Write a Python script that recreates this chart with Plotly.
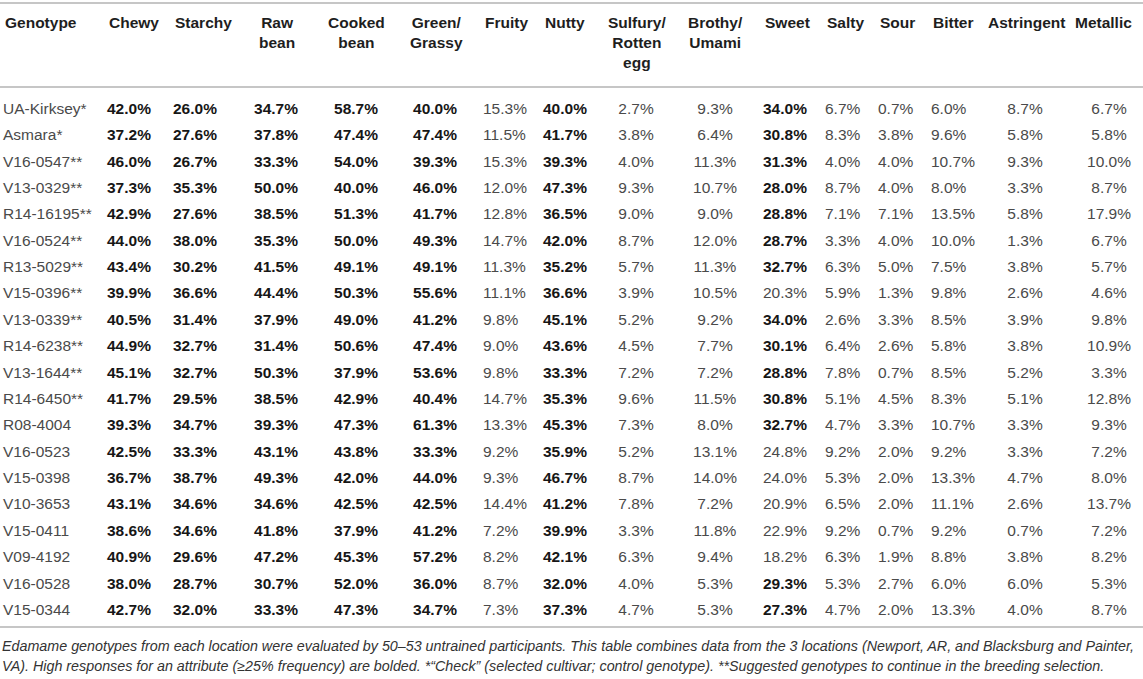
import plotly.graph_objects as go

# attributes (column headers) and genotypes (rows)
headers = ["Genotype", "Chewy", "Starchy", "Raw<br>bean", "Cooked<br>bean", "Green/<br>Grassy",
           "Fruity", "Nutty", "Sulfury/<br>Rotten<br>egg", "Brothy/<br>Umami", "Sweet", "Salty",
           "Sour", "Bitter", "Astringent", "Metallic"]

genotypes = ["UA-Kirksey*", "Asmara*", "V16-0547**", "V13-0329**", "R14-16195**", "V16-0524**",
             "R13-5029**", "V15-0396**", "V13-0339**", "R14-6238**", "V13-1644**", "R14-6450**",
             "R08-4004", "V16-0523", "V15-0398", "V10-3653", "V15-0411", "V09-4192", "V16-0528",
             "V15-0344"]

chewy = [42.0, 37.2, 46.0, 37.3, 42.9, 44.0, 43.4, 39.9, 40.5, 44.9, 45.1, 41.7, 39.3, 42.5, 36.7, 43.1, 38.6, 40.9, 38.0, 42.7]
starchy = [26.0, 27.6, 26.7, 35.3, 27.6, 38.0, 30.2, 36.6, 31.4, 32.7, 32.7, 29.5, 34.7, 33.3, 38.7, 34.6, 34.6, 29.6, 28.7, 32.0]
raw_bean = [34.7, 37.8, 33.3, 50.0, 38.5, 35.3, 41.5, 44.4, 37.9, 31.4, 50.3, 38.5, 39.3, 43.1, 49.3, 34.6, 41.8, 47.2, 30.7, 33.3]
cooked_bean = [58.7, 47.4, 54.0, 40.0, 51.3, 50.0, 49.1, 50.3, 49.0, 50.6, 37.9, 42.9, 47.3, 43.8, 42.0, 42.5, 37.9, 45.3, 52.0, 47.3]
green_grassy = [40.0, 47.4, 39.3, 46.0, 41.7, 49.3, 49.1, 55.6, 41.2, 47.4, 53.6, 40.4, 61.3, 33.3, 44.0, 42.5, 41.2, 57.2, 36.0, 34.7]
fruity = [15.3, 11.5, 15.3, 12.0, 12.8, 14.7, 11.3, 11.1, 9.8, 9.0, 9.8, 14.7, 13.3, 9.2, 9.3, 14.4, 7.2, 8.2, 8.7, 7.3]
nutty = [40.0, 41.7, 39.3, 47.3, 36.5, 42.0, 35.2, 36.6, 45.1, 43.6, 33.3, 35.3, 45.3, 35.9, 46.7, 41.2, 39.9, 42.1, 32.0, 37.3]
sulfury = [2.7, 3.8, 4.0, 9.3, 9.0, 8.7, 5.7, 3.9, 5.2, 4.5, 7.2, 9.6, 7.3, 5.2, 8.7, 7.8, 3.3, 6.3, 4.0, 4.7]
brothy = [9.3, 6.4, 11.3, 10.7, 9.0, 12.0, 11.3, 10.5, 9.2, 7.7, 7.2, 11.5, 8.0, 13.1, 14.0, 7.2, 11.8, 9.4, 5.3, 5.3]
sweet = [34.0, 30.8, 31.3, 28.0, 28.8, 28.7, 32.7, 20.3, 34.0, 30.1, 28.8, 30.8, 32.7, 24.8, 24.0, 20.9, 22.9, 18.2, 29.3, 27.3]
salty = [6.7, 8.3, 4.0, 8.7, 7.1, 3.3, 6.3, 5.9, 2.6, 6.4, 7.8, 5.1, 4.7, 9.2, 5.3, 6.5, 9.2, 6.3, 5.3, 4.7]
sour = [0.7, 3.8, 4.0, 4.0, 7.1, 4.0, 5.0, 1.3, 3.3, 2.6, 0.7, 4.5, 3.3, 2.0, 2.0, 2.0, 0.7, 1.9, 2.7, 2.0]
bitter = [6.0, 9.6, 10.7, 8.0, 13.5, 10.0, 7.5, 9.8, 8.5, 5.8, 8.5, 8.3, 10.7, 9.2, 13.3, 11.1, 9.2, 8.8, 6.0, 13.3]
astringent = [8.7, 5.8, 9.3, 3.3, 5.8, 1.3, 3.8, 2.6, 3.9, 3.8, 5.2, 5.1, 3.3, 3.3, 4.7, 2.6, 0.7, 3.8, 6.0, 4.0]
metallic = [6.7, 5.8, 10.0, 8.7, 17.9, 6.7, 5.7, 4.6, 9.8, 10.9, 3.3, 12.8, 9.3, 7.2, 8.0, 13.7, 7.2, 8.2, 5.3, 8.7]

footnote_1 = ("Edamame genotypes from each location were evaluated by 50–53 untrained participants. "
              "This table combines data from the 3 locations (Newport, AR, and Blacksburg and Painter,")
footnote_2 = ("VA). High responses for an attribute (≥25% frequency) are bolded. *“Check” (selected cultivar; "
              "control genotype). **Suggested genotypes to continue in the breeding selection.")

attrs = [chewy, starchy, raw_bean, cooked_bean, green_grassy, fruity, nutty, sulfury, brothy,
         sweet, salty, sour, bitter, astringent, metallic]

# page geometry (pixels)
W, H = 1143, 679
FONT = "Liberation Sans, Arial, sans-serif"
first_row_px, row_pitch = 110, 26.37
# column anchors: (header x, header anchor, value x, value anchor)
col_layout = [
    (3, "left", 3, "left"), (107, "left", 107, "left"), (173, "left", 173, "left"),
    (277, "center", 276, "center"), (356, "center", 356, "center"), (436, "center", 435, "center"),
    (483, "left", 483, "left"), (543, "left", 543, "left"), (637, "center", 636, "center"),
    (715, "center", 715, "center"), (763, "left", 763, "left"), (825, "left", 825, "left"),
    (878, "left", 878, "left"), (931, "left", 931, "left"), (1027, "center", 1025, "center"),
    (1073, "left", 1109, "center"),
]


def fmt(v):
    s = f"{v:.1f}%"
    return f"<b>{s}</b>" if v >= 25 else s


rows = list(range(len(genotypes)))
columns = [genotypes] + [[fmt(v) for v in col] for col in attrs]
bold_flags = [[False] * len(genotypes)] + [[v >= 25 for v in col] for col in attrs]

fig = go.Figure()
for (hx, ha, vx, va), col, bold in zip(col_layout, columns, bold_flags):
    fig.add_trace(go.Scatter(
        x=[vx] * len(col), y=rows, mode="text", text=col,
        textposition="middle right" if va == "left" else "middle center",
        textfont=dict(family=FONT, size=15.5, color=["#161616" if b else "#4a4a4a" for b in bold]),
        hoverinfo="skip", showlegend=False,
    ))

for (hx, ha, vx, va), h in zip(col_layout, headers):
    fig.add_annotation(text=f"<b>{h}</b>", x=hx, xref="x", y=1 - 12 / H, yref="paper",
                       xanchor=ha, yanchor="top", align=ha, showarrow=False,
                       font=dict(family=FONT, size=15.5, color="#1e1e1e"))

line_style = dict(color="#c6c6c6", width=2)
for y in (3, 87, 627):
    fig.add_shape(type="line", xref="paper", yref="paper", x0=0, x1=1,
                  y0=1 - y / H, y1=1 - y / H, line=line_style)

for txt, y in ((footnote_1, 646), (footnote_2, 666)):
    fig.add_annotation(text=txt, xref="paper", yref="paper", x=0, y=1 - y / H,
                       xanchor="left", yanchor="middle", showarrow=False,
                       font=dict(family=FONT, size=14.3, color="#333", style="italic"))

y_top = -first_row_px / row_pitch
fig.update_layout(
    width=W, height=H,
    margin=dict(l=0, r=0, t=0, b=0),
    paper_bgcolor="white", plot_bgcolor="white",
    xaxis=dict(range=[0, W], visible=False, fixedrange=True),
    yaxis=dict(range=[y_top + H / row_pitch, y_top], visible=False, fixedrange=True),
)

# drop the browser's default 8px body margin so the figure fills the window
fig.write_html("out.html", config={"displayModeBar": False},
               post_script="document.body.style.margin='0px';")
